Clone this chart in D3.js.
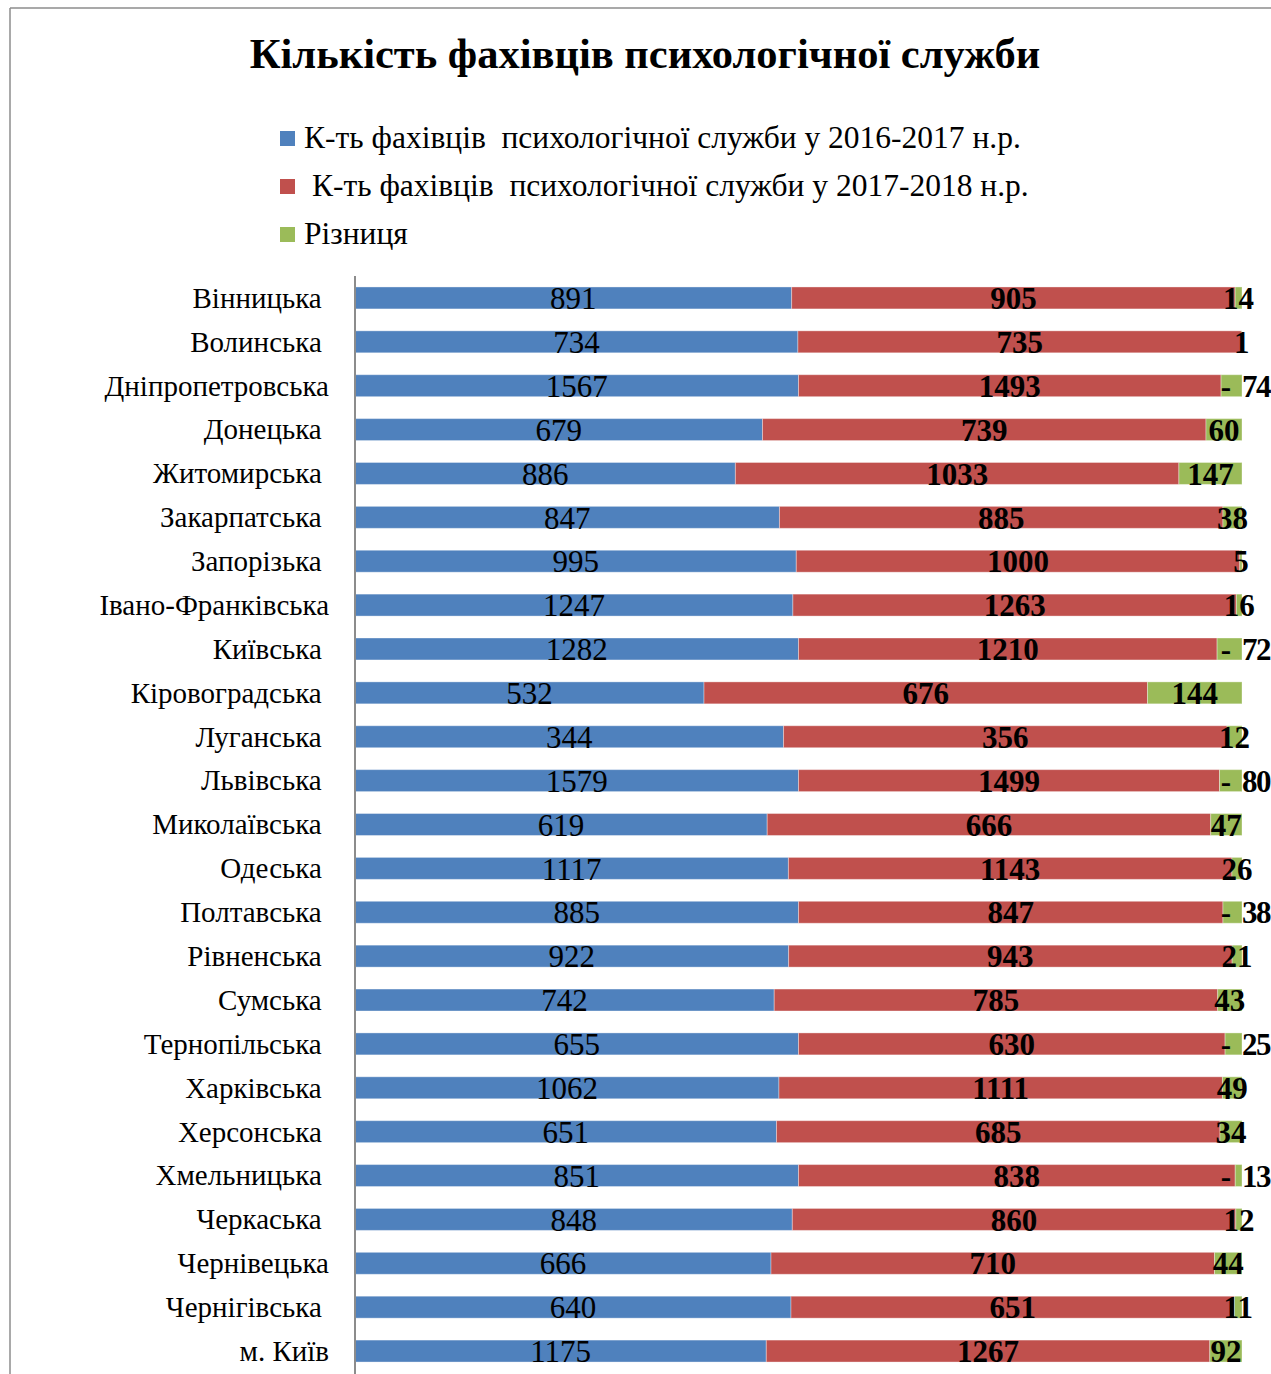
<!DOCTYPE html>
<html lang="uk">
<head>
<meta charset="UTF-8">
<title>Кількість фахівців психологічної служби</title>
<script src="https://d3js.org/d3.v7.min.js"></script>
<style>
html, body {
  margin: 0;
  padding: 0;
  background-color: white;
}

body {
  font-family: 'Liberation Serif', 'Times New Roman', serif;
}

#chart svg {
  display: block;
}

.title {
  font-family: 'Liberation Serif', serif;
  font-size: 42.5px;
  font-weight: bold;
  fill: #000;
}

.legend text {
  font-family: 'Liberation Serif', serif;
  font-size: 31.5px;
  fill: #000;
  white-space: pre;
}

.y-axis text {
  font-family: 'Liberation Serif', serif;
  font-size: 29px;
  fill: #000;
  white-space: pre;
}

.y-axis path, .y-axis line {
  stroke: none;
}

.value {
  font-family: 'Liberation Serif', serif;
  font-size: 31px;
  fill: #000;
}

.value.bold {
  font-weight: bold;
}

.value.tight {
  letter-spacing: -1.5px;
}
</style>
</head>
<body>

<div id="chart"></div>

<script>

// --------------------------------------
// Data
// --------------------------------------

// regions (some source labels carry a trailing space)
const regions = ["Вінницька ", "Волинська ", "Дніпропетровська", "Донецька ", "Житомирська ",
  "Закарпатська ", "Запорізька ", "Івано-Франківська", "Київська ", "Кіровоградська ",
  "Луганська ", "Львівська ", "Миколаївська ", "Одеська ", "Полтавська ",
  "Рівненська ", "Сумська ", "Тернопільська ", "Харківська ", "Херсонська ",
  "Хмельницька ", "Черкаська ", "Чернівецька", "Чернігівська ", "м. Київ"];

const year2016 = [891, 734, 1567, 679, 886, 847, 995, 1247, 1282, 532, 344, 1579, 619,
  1117, 885, 922, 742, 655, 1062, 651, 851, 848, 666, 640, 1175];

const year2017 = [905, 735, 1493, 739, 1033, 885, 1000, 1263, 1210, 676, 356, 1499, 666,
  1143, 847, 943, 785, 630, 1111, 685, 838, 860, 710, 651, 1267];

const difference = [14, 1, -74, 60, 147, 38, 5, 16, -72, 144, 12, -80, 47,
  26, -38, 21, 43, -25, 49, 34, -13, 12, 44, 11, 92];

const seriesNames = ["К-ть фахівців  психологічної служби у 2016-2017 н.р.",
  " К-ть фахівців  психологічної служби у 2017-2018 н.р.",
  "Різниця"];

const colors = ["#4F81BD", "#C0504D", "#9BBB59"];

// --------------------------------------
// Size and margin
// --------------------------------------

const totalWidth = 1271;
const totalHeight = 1374;
const margin = {top: 276, left: 355, right: 29, bottom: 1};

const svg = d3.select("#chart")
  .append("svg")
  .attr("width", totalWidth)
  .attr("height", totalHeight);

// page frame around the chart
svg.append("line")
  .attr("x1", 10).attr("x2", totalWidth)
  .attr("y1", 8).attr("y2", 8)
  .attr("stroke", "#8c8c8c").attr("stroke-width", 1.5);

svg.append("line")
  .attr("x1", 10).attr("x2", 10)
  .attr("y1", 8).attr("y2", totalHeight)
  .attr("stroke", "#8c8c8c").attr("stroke-width", 1.5);

// --------------------------------------
// Title
// --------------------------------------

svg.append("text")
  .attr("class", "title")
  .attr("x", 645)
  .attr("y", 68)
  .attr("text-anchor", "middle")
  .text("Кількість фахівців психологічної служби");

// --------------------------------------
// Legend
// --------------------------------------

const legend = svg.append("g")
  .attr("class", "legend")
  .attr("transform", "translate(280,138)");

seriesNames.forEach((name, i) => {
  legend.append("rect")
    .attr("x", 0)
    .attr("y", i * 48 - 7)
    .attr("width", 15)
    .attr("height", 15)
    .attr("fill", colors[i]);

  legend.append("text")
    .attr("x", 24)
    .attr("y", i * 48 + 10)
    .text(name);
});

// --------------------------------------
// Stack (100%)
// --------------------------------------

const rows = regions.map((r, i) => {
  const total = year2016[i] + year2017[i] + Math.abs(difference[i]);
  return {
    region: r,
    parts: [
      {value: year2016[i], shown: year2016[i], start: 0, end: year2016[i] / total, k: 0},
      {value: year2017[i], shown: year2017[i], start: year2016[i] / total, end: (year2016[i] + year2017[i]) / total, k: 1},
      {value: Math.abs(difference[i]), shown: difference[i], start: (year2016[i] + year2017[i]) / total, end: 1, k: 2}
    ]
  };
});

// --------------------------------------
// Scales
// --------------------------------------

const x = d3.scaleLinear()
  .domain([0, 1])
  .range([margin.left, totalWidth - margin.right]);

const y = d3.scaleBand()
  .domain(regions)
  .range([margin.top, totalHeight - margin.bottom])
  .paddingInner(0.5)
  .paddingOuter(0.25);

// --------------------------------------
// Bars
// --------------------------------------

const groups = svg.selectAll(".row")
  .data(rows)
  .join("g")
  .attr("class", "row");

groups.selectAll("rect")
  .data(d => d.parts.map(p => ({...p, region: d.region})))
  .join("rect")
  .attr("x", d => x(d.start))
  .attr("y", d => y(d.region))
  .attr("width", d => x(d.end) - x(d.start))
  .attr("height", y.bandwidth())
  .attr("fill", d => colors[d.k])
  .attr("stroke", "#ffffff")
  .attr("stroke-opacity", 0.35)
  .attr("stroke-width", 1);

// --------------------------------------
// Value labels
// --------------------------------------

const labels = groups.selectAll(".lbl")
  .data(d => d.parts.map(p => ({...p, region: d.region})))
  .join("g")
  .attr("class", "lbl");

// centred labels (blue, red, positive difference)
labels.filter(d => d.shown >= 0)
  .append("text")
  .attr("class", d => d.k === 0 ? "value" : "value bold")
  .attr("x", d => (x(d.start) + x(d.end)) / 2)
  .attr("y", d => y(d.region) + y.bandwidth() / 2)
  .attr("dy", "0.36em")
  .attr("text-anchor", "middle")
  .text(d => d.shown);

// negative difference: dash inside, number after the bar end
const neg = labels.filter(d => d.shown < 0);

neg.append("text")
  .attr("class", "value bold")
  .attr("x", d => x(d.end) - 11)
  .attr("y", d => y(d.region) + y.bandwidth() / 2)
  .attr("dy", "0.36em")
  .attr("text-anchor", "end")
  .text("-");

neg.append("text")
  .attr("class", "value bold tight")
  .attr("x", d => x(d.end))
  .attr("y", d => y(d.region) + y.bandwidth() / 2)
  .attr("dy", "0.36em")
  .attr("text-anchor", "start")
  .text(d => Math.abs(d.shown));

// --------------------------------------
// Axis
// --------------------------------------

svg.append("g")
  .attr("class", "y-axis")
  .attr("transform", `translate(${margin.left - 26},0)`)
  .call(d3.axisLeft(y).tickSize(0).tickPadding(0))
  .attr("font-family", null)
  .attr("font-size", null)
  .selectAll("text")
  .attr("dy", "0.34em");

svg.append("line")
  .attr("x1", margin.left).attr("x2", margin.left)
  .attr("y1", margin.top).attr("y2", totalHeight)
  .attr("stroke", "#8c8c8c")
  .attr("stroke-width", 2);

</script>
</body>
</html>
